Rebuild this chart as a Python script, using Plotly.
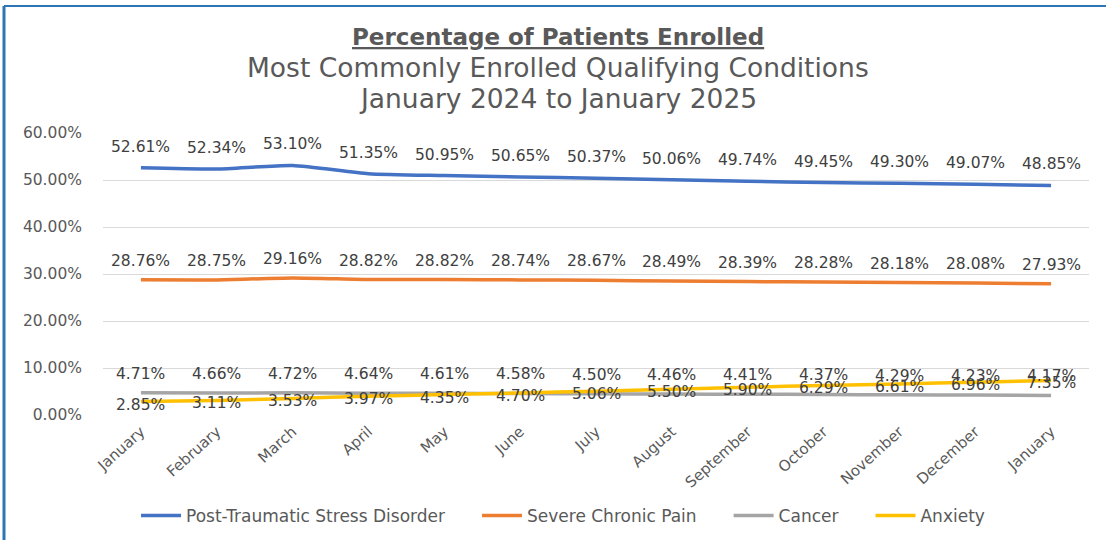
import plotly.graph_objects as go

months = ["January", "February", "March", "April", "May", "June", "July",
          "August", "September", "October", "November", "December", "January"]
ptsd = [52.61, 52.34, 53.10, 51.35, 50.95, 50.65, 50.37, 50.06, 49.74, 49.45, 49.30, 49.07, 48.85]
pain = [28.76, 28.75, 29.16, 28.82, 28.82, 28.74, 28.67, 28.49, 28.39, 28.28, 28.18, 28.08, 27.93]
cancer = [4.71, 4.66, 4.72, 4.64, 4.61, 4.58, 4.50, 4.46, 4.41, 4.37, 4.29, 4.23, 4.17]
anxiety = [2.85, 3.11, 3.53, 3.97, 4.35, 4.70, 5.06, 5.50, 5.90, 6.29, 6.61, 6.96, 7.35]

series = [
    ("Post-Traumatic Stress Disorder", ptsd, "#4472C4", 21),
    ("Severe Chronic Pain", pain, "#ED7D31", 19),
    ("Cancer", cancer, "#A5A5A5", 19),
    ("Anxiety", anxiety, "#FFC000", -3),
]

FONT = "DejaVu Sans"
PAD = "\u00a0" * 5
xs = list(range(len(months)))

fig = go.Figure()
annotations = []
for i, (name, vals, color, shift) in enumerate(series):
    fig.add_trace(go.Scatter(
        x=xs, y=[v / 100 for v in vals], name=name + (PAD if i < len(series) - 1 else ""),
        mode="lines",
        line=dict(color=color, width=3.5, shape="spline", smoothing=0.6),
        hoverinfo="skip",
    ))
    for x, v in zip(xs, vals):
        annotations.append(dict(
            x=x, y=v / 100, xref="x", yref="y", text=f"{v:.2f}%",
            showarrow=False, yshift=shift,
            font=dict(family=FONT, size=15.5, color="#404040"),
        ))

title_lines = [
    ("<b><u>Percentage of Patients Enrolled</u></b>", 37, 23),
    ("Most Commonly Enrolled Qualifying Conditions", 67, 26.5),
    ("January 2024 to January 2025", 98, 26.5),
]
for txt, ypx, sz in title_lines:
    annotations.append(dict(
        x=(558 - 103) / 986, y=(415 - ypx) / 282, xref="paper", yref="paper",
        xanchor="center", yanchor="middle", showarrow=False,
        text=txt, font=dict(family=FONT, size=sz, color="#595959"),
    ))

fig.update_layout(
    width=1106, height=540,
    margin=dict(l=103, r=17, t=133, b=125, autoexpand=False),
    paper_bgcolor="white", plot_bgcolor="white",
    annotations=annotations,
    showlegend=True,
    legend=dict(orientation="h", x=(563 - 103) / 986, xanchor="center",
                y=(415 - 516) / 282, yanchor="middle", itemwidth=40,
                font=dict(family=FONT, size=17, color="#595959")),
    xaxis=dict(range=[-0.5, 12.5], tickmode="array", tickvals=xs, ticktext=months,
               tickangle=-42, showgrid=False, zeroline=False, showline=False,
               ticklabelstandoff=4, automargin=False,
               tickfont=dict(family=FONT, size=15, color="#595959")),
    yaxis=dict(range=[0, 0.6], dtick=0.1, tickformat=".2%", showgrid=True,
               gridcolor="#D9D9D9", gridwidth=1, zeroline=False, showline=False,
               ticklabelstandoff=20, automargin=False,
               tickfont=dict(family=FONT, size=15.5, color="#595959")),
    shapes=[
        dict(type="line", xref="paper", yref="paper",
             x0=(4 - 103) / 986, x1=(1106 - 103) / 986,
             y0=(415 - 6) / 282, y1=(415 - 6) / 282,
             line=dict(color="#2E75B6", width=2)),
        dict(type="line", xref="paper", yref="paper",
             x0=(4 - 103) / 986, x1=(4 - 103) / 986,
             y0=(415 - 6) / 282, y1=(415 - 545) / 282,
             line=dict(color="#2E75B6", width=3)),
    ],
)

fig.write_html("out.html", config={"displayModeBar": False},
               post_script="document.body.style.margin='0';")
